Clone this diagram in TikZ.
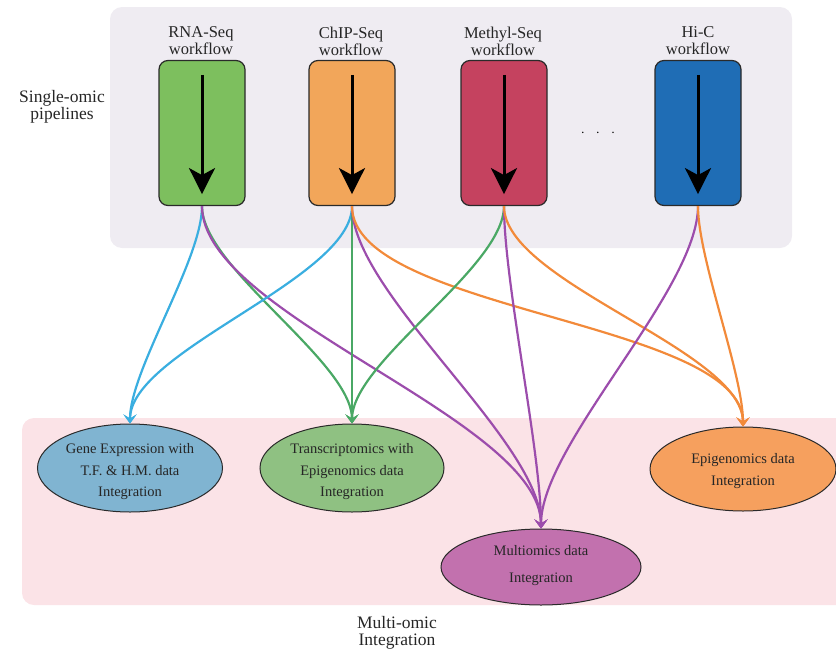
\documentclass[tikz,border=0pt]{standalone}
\usepackage{fontspec}
\setmainfont{Liberation Serif}
\usetikzlibrary{arrows.meta,shapes.geometric}
\definecolor{panelgray}{HTML}{EFECF2}
\definecolor{panelpink}{HTML}{FBE3E7}
\definecolor{boxgreen}{HTML}{7DBF5E}
\definecolor{boxorange}{HTML}{F2A65A}
\definecolor{boxred}{HTML}{C5425F}
\definecolor{boxblue}{HTML}{1F6DB5}
\definecolor{ellblue}{HTML}{80B4D1}
\definecolor{ellgreen}{HTML}{8FC182}
\definecolor{ellpurple}{HTML}{C271AE}
\definecolor{ellorange}{HTML}{F6A05E}
\definecolor{linkblue}{HTML}{3AAEE0}
\definecolor{linkgreen}{HTML}{4AA865}
\definecolor{linkpurple}{HTML}{9C4DAC}
\definecolor{linkorange}{HTML}{F28A3A}
\definecolor{edge}{HTML}{2A2A2A}
\definecolor{ink}{HTML}{262626}
\begin{document}
\begin{tikzpicture}[x=1pt,y=-1pt,
  panel/.style={rounded corners=12pt},
  workbox/.style={draw=edge, line width=1.2pt, rounded corners=9pt,
    minimum width=86pt, minimum height=145pt, inner sep=0pt},
  worklabel/.style={align=center, text=ink, font=\fontsize{16.5}{17}\selectfont, inner sep=0pt},
  flow/.style={line width=3pt, -{Stealth[length=26pt,width=26pt,inset=7pt]}},
  result/.style={ellipse, draw=edge, line width=1pt, inner sep=0pt},
  resulttext/.style={align=center, text=ink, inner sep=0pt},
  link/.style={line width=2.2pt, looseness=0.6,
    -{Stealth[length=9pt,width=13pt,inset=4pt]}},
  caption/.style={align=center, text=ink, font=\fontsize{17.5}{17}\selectfont, inner sep=0pt}
]
\useasboundingbox (0,0) rectangle (836,651);

% background panels
\fill[panelgray, panel] (110,7) rectangle (792,248);
\fill[panelpink, panel] (22,418) rectangle (850,605);

% side captions
\node[caption] (single) at (62,107) {Single-omic\\pipelines};
\node[caption] (multi) at (397,633) {Multi-omic\\Integration};

% workflow boxes
\node[workbox, fill=boxgreen]  (rna)   at (202,133) {};
\node[workbox, fill=boxorange] (chip)  at (352,133) {};
\node[workbox, fill=boxred]    (meth)  at (504,133) {};
\node[workbox, fill=boxblue]   (hic)   at (698,133) {};

\node[worklabel] (rnalab)  at (201,41) {RNA-Seq\\workflow};
\node[worklabel] (chiplab) at (351,41) {ChIP-Seq\\workflow};
\node[worklabel] (methlab) at (503,41) {Methyl-Seq\\workflow};
\node[worklabel] (hiclab)  at (698,41) {Hi-C\\workflow};

\node[font=\fontsize{14}{17}\selectfont] (dots) at (598,133) {$\cdot\;\;\cdot\;\;\cdot$};

% arrows inside the boxes
\foreach \b in {rna,chip,meth,hic}{
  \coordinate (\b-top) at ([yshift=-15pt]\b.north);
  \coordinate (\b-bot) at ([yshift=12pt]\b.south);
  \draw[flow] (\b-top) -- (\b-bot);
}

% integration results
\node[result, fill=ellblue,   minimum width=185pt, minimum height=88pt] (gene)  at (130,468) {};
\node[result, fill=ellgreen,  minimum width=184pt, minimum height=88pt] (trans) at (352,468) {};
\node[result, fill=ellpurple, minimum width=200pt, minimum height=76pt] (multio) at (541,567) {};
\node[result, fill=ellorange, minimum width=186pt, minimum height=84pt] (epi) at (743,469) {};

\node[resulttext, font=\fontsize{14.5}{21.5}\selectfont] (genetext) at ([yshift=-4pt]gene.center)
  {Gene Expression with\\T.F. \& H.M. data\\Integration};
\node[resulttext, font=\fontsize{14.5}{21.5}\selectfont] (transtext) at ([yshift=-4pt]trans.center)
  {Transcriptomics with\\Epigenomics data\\Integration};
\node[resulttext, font=\fontsize{14.5}{27}\selectfont] (multiotext) at ([yshift=1pt]multio.center)
  {Multiomics data\\Integration};
\node[resulttext, font=\fontsize{14.5}{22}\selectfont] (epitext) at ([yshift=-2pt]epi.center)
  {Epigenomics data\\Integration};

% connectors
\draw[link, linkblue]   (rna.south)  to[out=-90,in=90] (gene.north);
\draw[link, linkgreen]  (rna.south)  to[out=-90,in=90] (trans.north);
\draw[link, linkpurple] (rna.south)  to[out=-90,in=90] (multio.north);

\draw[link, linkblue]   (chip.south) to[out=-90,in=90] (gene.north);
\draw[link, linkgreen]  (chip.south) to[out=-90,in=90] (trans.north);
\draw[link, linkpurple] (chip.south) to[out=-90,in=90] (multio.north);
\draw[link, linkorange] (chip.south) to[out=-90,in=90] (epi.north);

\draw[link, linkgreen]  (meth.south) to[out=-90,in=90] (trans.north);
\draw[link, linkpurple] (meth.south) to[out=-90,in=90] (multio.north);
\draw[link, linkorange] (meth.south) to[out=-90,in=90] (epi.north);

\draw[link, linkpurple] (hic.south)  to[out=-90,in=90] (multio.north);
\draw[link, linkorange] (hic.south)  to[out=-90,in=90] (epi.north);
\end{tikzpicture}
\end{document}
